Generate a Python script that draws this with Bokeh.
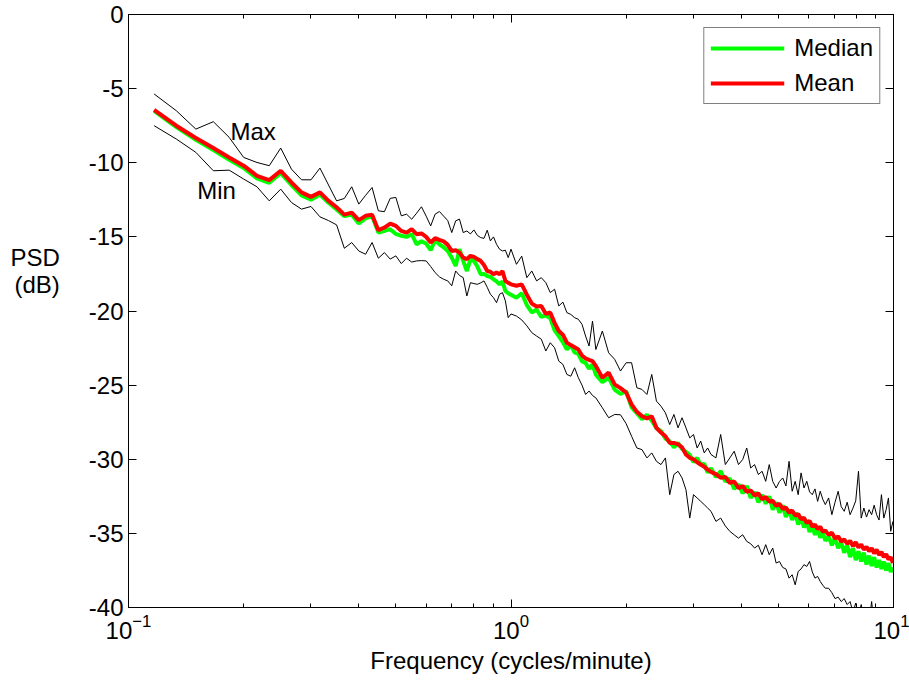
import numpy as np
from bokeh.plotting import figure
from bokeh.models import (FixedTicker, LogAxis, LinearAxis, Label, Legend,
                          LegendItem, Range1d)
from bokeh.embed import file_html
from bokeh.resources import INLINE

# frequency bins (resolution 1/60 cycles/minute)
DF = 1.0 / 60.0
bins = (list(range(7, 61)) + list(range(62, 101, 2)) + list(range(104, 201, 4))
        + list(range(206, 399, 6)) + list(range(406, 599, 8)))
freq = [b * DF for b in bins]

psd_max = [
    -5.36, -6.49, -7.73, -7.23, -8.29, -9.64, -9.98, -10.2, -9.01, -10.43,
    -11.15, -11.15, -10.36, -11.5, -12.57, -12.41, -11.62, -12.79, -12.2, -11.67,
    -13.24, -13.3, -12.4, -12.34, -13.58, -13.47, -13.81, -13.4, -12.97, -13.6,
    -14.26, -13.47, -13.29, -13.6, -13.9, -14.71, -13.92, -13.8, -14.71, -14.6,
    -14.8, -14.53, -14.9, -15.05, -15.1, -14.55, -15.27, -15.0, -15.5, -15.83,
    -15.95, -15.9, -16.4, -15.83,
    -16.85, -16.3, -17.75, -17.3, -17.97, -17.75, -18.09, -18.76, -18.53, -19.66,
    -19.4, -20.11, -20.23, -20.45, -20.56, -20.9, -21.69, -22.36, -20.68, -22.6,
    -21.35, -22.82, -23.26, -24.05, -23.49, -23.49, -25.18, -25.29, -25.63, -24.28,
    -26.08, -26.42, -26.87, -27.66, -26.98, -27.88, -27.2, -27.88, -28.56, -28.33,
    -29.24, -28.78, -29.57, -29.24, -29.68,
    -29.91, -28.33, -30.36, -29.91, -29.46, -30.36, -30.02, -29.24, -30.59, -30.36,
    -31.03, -30.81, -31.49, -30.36, -31.49, -31.94, -31.5, -31.26, -31.8, -30.14,
    -32.16, -31.49, -32.39, -30.92, -31.94, -31.49, -32.2, -32.39, -32.0, -32.84,
    -32.16, -32.7, -33.06,
    -32.61, -33.74, -32.9, -32.16, -33.2, -33.51, -32.9, -33.74, -33.3, -32.8,
    -30.81, -33.97, -33.29, -33.9, -33.4, -33.74, -33.1, -33.74, -34.1, -32.39,
    -33.97, -33.4, -32.61, -34.86, -34.19,
]

psd_mean = [
    -6.44, -7.5, -8.33, -9.01, -9.64, -10.2, -10.88, -11.17, -10.54, -11.33,
    -12.0, -12.3, -12.0, -12.57, -13.0, -13.5, -13.36, -13.87, -13.58, -13.5,
    -14.55, -14.37, -14.1, -14.26, -14.6, -14.71, -14.48, -14.82, -14.77, -15.0,
    -15.38, -15.09, -15.2, -15.3, -15.54, -15.95, -15.9, -16.06, -16.4, -16.5,
    -16.28, -16.35, -16.5, -16.62, -16.9, -17.3, -17.35, -17.52, -17.41, -17.52,
    -17.3, -17.97, -18.1, -18.2,
    -18.3, -18.2, -18.9, -19.5, -19.7, -19.66, -20.2, -20.1, -20.8, -21.35,
    -21.6, -22.14, -22.3, -22.45, -22.6, -23.0, -23.2, -23.3, -23.38, -23.7,
    -24.5, -24.16, -24.95, -25.2, -25.5, -26.3, -26.8, -27.09, -27.25, -27.1,
    -27.88, -28.2, -28.45, -28.9, -28.9, -29.0, -29.2, -29.68, -29.9, -30.0,
    -30.2, -30.36, -30.5, -30.7, -30.85,
    -31.0, -31.25, -31.2, -31.6, -31.5, -31.95, -31.8, -32.2, -32.1, -32.45,
    -32.3, -32.7, -32.55, -32.85, -32.8, -33.15, -33.0, -33.35, -33.25, -33.6,
    -33.45, -33.8, -33.7, -34.05, -33.95, -34.3, -34.15, -34.55, -34.4, -34.7,
    -34.55, -34.9, -34.8,
    -35.1, -34.95, -35.35, -35.2, -35.55, -35.4, -35.7, -35.5, -35.85, -35.6,
    -35.95, -35.75, -36.1, -35.9, -36.2, -36.0, -36.35, -36.1, -36.45, -36.25,
    -36.6, -36.4, -36.75, -36.6, -37.0,
]

psd_median = [
    -6.5, -7.6, -8.45, -9.15, -9.8, -10.35, -11.05, -11.35, -10.7, -11.5,
    -12.2, -12.5, -12.15, -12.7, -13.15, -13.6, -13.5, -14.1, -13.75, -13.6,
    -14.71, -14.6, -14.48, -14.8, -14.93, -15.0, -14.82, -15.5, -15.3, -15.45,
    -15.9, -15.2, -15.5, -15.7, -15.95, -16.4, -16.96, -15.83, -16.62, -17.3,
    -16.5, -16.62, -17.0, -17.52, -17.5, -17.64, -17.7, -17.86, -18.0, -18.2,
    -18.0, -18.65, -18.8, -18.9,
    -19.1, -18.8, -19.6, -20.1, -19.9, -20.4, -20.3, -20.5, -21.3, -21.7,
    -22.1, -22.6, -22.3, -22.8, -22.9, -23.4, -23.5, -23.9, -23.6, -24.3,
    -24.8, -24.5, -25.3, -25.6, -25.4, -26.5, -26.9, -27.3, -27.0, -27.4,
    -27.9, -28.1, -28.6, -28.8, -29.2, -28.9, -29.3, -29.5, -29.7, -30.2,
    -29.9, -30.4, -30.3, -30.9, -30.6,
    -31.2, -30.8, -31.5, -31.3, -32.0, -31.7, -32.3, -31.8, -32.6, -32.2,
    -32.9, -32.4, -33.0, -32.5, -33.4, -32.9, -33.6, -33.1, -33.9, -33.4,
    -34.1, -33.6, -34.4, -33.9, -34.6, -34.2, -34.9, -34.5, -35.1, -34.6,
    -35.3, -34.9, -35.5,
    -35.2, -35.8, -35.3, -36.0, -35.6, -36.3, -35.8, -36.6, -36.0, -36.8,
    -36.2, -36.9, -36.3, -37.1, -36.5, -37.2, -36.6, -37.3, -36.8, -37.4,
    -36.9, -37.5, -37.0, -37.6, -37.3,
]

psd_min = [
    -7.5, -8.4, -9.3, -10.54, -10.5, -11.1, -11.62, -12.57, -11.78, -12.68,
    -13.13, -12.95, -13.65, -13.9, -14.19, -15.77, -15.38, -15.95, -16.17, -15.38,
    -16.44, -16.06, -16.5, -16.28, -16.8, -16.44, -16.7, -16.62, -16.6, -16.62,
    -17.0, -17.41, -17.7, -17.86, -17.97, -18.3, -17.3, -17.6, -17.75, -18.99,
    -18.09, -18.15, -18.2, -18.1, -17.97, -18.4, -18.87, -19.1, -19.44, -18.87,
    -18.76, -19.32, -20.45, -20.2,
    -20.34, -20.6, -21.0, -21.46, -21.69, -21.9, -22.7, -22.14, -22.48, -23.38,
    -23.6, -24.28, -24.4, -23.83, -24.5, -25.0, -25.63, -25.4, -25.7, -25.86,
    -26.53, -27.2, -26.98, -27.0, -27.6, -28.45, -29.24, -29.35, -29.91, -29.57,
    -30.14, -30.36, -29.91, -32.39, -31.03, -30.81, -31.26, -32.05, -33.97, -32.39,
    -32.61, -32.84, -33.06, -33.29, -33.51,
    -34.19, -33.97, -34.5, -34.86, -35.1, -35.32, -35.09, -35.54, -35.7, -35.99,
    -35.8, -36.44, -35.76, -36.44, -35.99, -37.0, -36.9, -37.3, -37.4, -38.02,
    -37.79, -38.47, -37.57, -37.4, -37.11, -37.23, -36.89, -37.6, -38.02, -37.9,
    -38.24, -38.5, -38.7,
    -38.7, -39.0, -39.4, -39.3, -39.6, -39.4, -39.8, -39.6, -40.3, -39.7,
    -40.6, -39.8, -40.8, -40.2, -41.0, -39.6, -41.2, -40.4, -41.0, -40.2,
    -41.3, -40.5, -41.2, -40.4, -41.5,
]

x_major = [0.1, 1.0, 10.0]
x_minor = [0.2, 0.3, 0.4, 0.5, 0.6, 0.7, 0.8, 0.9, 2, 3, 4, 5, 6, 7, 8, 9]
y_ticks = [-40, -35, -30, -25, -20, -15, -10, -5, 0]
y_tick_labels = ["-40", "-35", "-30", "-25", "-20", "-15", "-10", "-5", "0"]

FONT = "Liberation Sans"
FS = "24px"

p = figure(width=909, height=681, x_axis_type="log",
           x_range=Range1d(0.1, 10), y_range=Range1d(-40, 0),
           output_backend="svg", toolbar_location=None,
           min_border_left=128, min_border_right=16,
           min_border_top=14, min_border_bottom=74)
p.xgrid.visible = False
p.ygrid.visible = False
p.outline_line_color = "black"
p.outline_line_width = 1
p.background_fill_color = "white"
p.border_fill_color = "white"


def style_axis(ax, labels=True):
    ax.axis_line_color = "black"
    ax.major_tick_line_color = "black"
    ax.minor_tick_line_color = "black"
    ax.major_tick_in = 8
    ax.major_tick_out = 0
    ax.minor_tick_in = 4
    ax.minor_tick_out = 0
    ax.major_label_text_font = FONT
    ax.axis_label_text_font = FONT
    ax.axis_label_text_font_style = "normal"
    ax.axis_label_text_color = "black"
    ax.major_label_text_font_size = FS
    ax.axis_label_text_font_size = FS
    if labels:
        ax.major_label_text_color = "black"
    else:
        ax.major_label_text_alpha = 0.0
        ax.major_label_text_font_size = "2px"
        ax.major_label_standoff = 0


xt = FixedTicker(ticks=x_major, minor_ticks=x_minor)
yt = FixedTicker(ticks=y_ticks, minor_ticks=[])

p.xaxis.ticker = xt
p.yaxis.ticker = yt
style_axis(p.xaxis[0])
style_axis(p.yaxis[0])
p.yaxis.major_label_overrides = {t: s for t, s in zip(y_ticks, y_tick_labels)}
p.xaxis.axis_label = "Frequency (cycles/minute)"
p.xaxis.major_label_standoff = 6
p.xaxis.axis_label_standoff = 5
p.yaxis.major_label_standoff = 5
# two visible lines; trailing blank lines lift the block as in the original
p.yaxis.axis_label = "PSD\n(dB)\n\u00a0\n\u00a0\n\u00a0"
p.yaxis.axis_label_text_line_height = 1.0
p.yaxis.axis_label_standoff = 26
try:
    p.yaxis.axis_label_orientation = "horizontal"
except Exception:
    pass

top_ax = LogAxis(ticker=FixedTicker(ticks=x_major, minor_ticks=x_minor))
style_axis(top_ax, labels=False)
p.add_layout(top_ax, "above")
right_ax = LinearAxis(ticker=FixedTicker(ticks=y_ticks, minor_ticks=[]))
style_axis(right_ax, labels=False)
p.add_layout(right_ax, "right")

p.line(freq, psd_max, line_color="black", line_width=1)
p.line(freq, psd_min, line_color="black", line_width=1)
r_med = p.line(freq, psd_median, line_color="#00ff00", line_width=4)
r_mean = p.line(freq, psd_mean, line_color="#ff0000", line_width=4)

legend = Legend(items=[LegendItem(label="Median", renderers=[r_med]),
                       LegendItem(label="Mean", renderers=[r_mean])],
                location="top_right")
legend.label_text_font = FONT
legend.label_text_font_size = FS
legend.label_text_color = "black"
legend.glyph_width = 74
legend.glyph_height = 20
legend.label_height = 20
legend.label_standoff = 10
legend.spacing = 7
legend.padding = 6
legend.margin = 13
legend.border_line_color = "black"
legend.border_line_width = 1
legend.background_fill_alpha = 1.0
p.add_layout(legend)

p.add_layout(Label(x=0.1848, y=-7.885, text="Max", text_font=FONT,
                   text_font_size=FS, text_color="black",
                   text_baseline="alphabetic"))
p.add_layout(Label(x=0.1512, y=-11.89, text="Min", text_font=FONT,
                   text_font_size=FS, text_color="black",
                   text_baseline="alphabetic"))

open("out.html", "w").write(file_html(p, INLINE))
